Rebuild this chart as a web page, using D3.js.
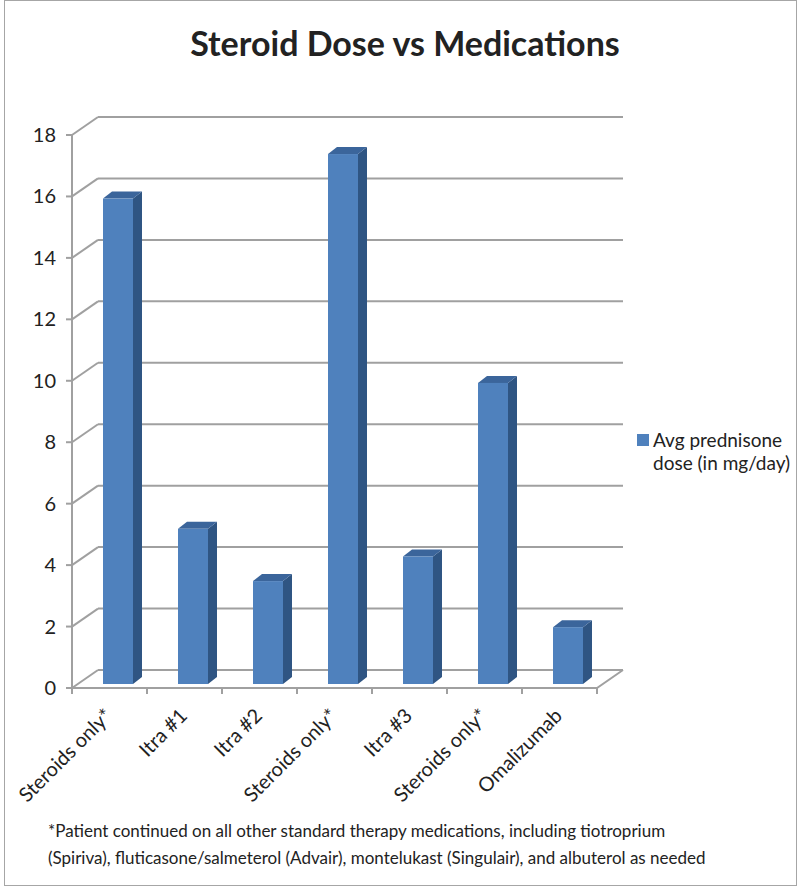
<!DOCTYPE html>
<html>
<head>
<meta charset="utf-8">
<script src="https://cdn.jsdelivr.net/npm/d3@7"></script>
<style>
  body { margin: 0; background: #fff; }
  svg { display: block; font-family: Lato, "Open Sans", sans-serif; }
</style>
</head>
<body>
<figure id="chart" style="margin:0"></figure>
<script>
const categories = ['Steroids only*', 'Itra #1', 'Itra #2', 'Steroids only*', 'Itra #3', 'Steroids only*', 'Omalizumab'];
const doses = [15.8, 5.05, 3.35, 17.25, 4.15, 9.8, 1.85];
const yTicks = [0, 2, 4, 6, 8, 10, 12, 14, 16, 18];
const seriesName = ['Avg prednisone', 'dose (in mg/day)'];
const footnote = [
  '*Patient continued on all other standard therapy medications, including tiotroprium',
  '(Spiriva), fluticasone/salmeterol (Advair), montelukast (Singulair), and albuterol as needed'
];

const width = 797, height = 889;
const wall = { dx: 26, dy: -18 };   // depth of the 3D box
const barOff = { dx: 0, dy: -4 };   // where the bar front sits in depth
const barDepth = { dx: 9, dy: -7 };

const svg = d3.select('figure#chart')
  .append('svg')
  .attr('width', width)
  .attr('height', height);

// outer chart border
svg.append('rect')
  .attr('x', 4.5).attr('y', 0.5)
  .attr('width', width - 5).attr('height', height - 4)
  .attr('fill', 'none').attr('stroke', '#a6a6a6').attr('stroke-width', 1);

// title
svg.append('text')
  .attr('x', 405).attr('y', 56)
  .attr('text-anchor', 'middle')
  .attr('font-size', 34).attr('font-weight', 'bold').attr('fill', '#222')
  .text('Steroid Dose vs Medications');

const x = d3.scaleBand()
  .domain(d3.range(categories.length))
  .range([72, 597]);

const y = d3.scaleLinear()
  .domain([0, 18])
  .range([688, 135]);

const grid = svg.append('g')
  .attr('stroke', '#a0a0a0').attr('stroke-width', 2).attr('fill', 'none');

// back gridlines + side wall diagonals
yTicks.forEach(t => {
  grid.append('line')
    .attr('x1', 72 + wall.dx).attr('x2', 597 + wall.dx)
    .attr('y1', y(t) + wall.dy).attr('y2', y(t) + wall.dy);
  grid.append('line')
    .attr('x1', 72).attr('x2', 72 + wall.dx)
    .attr('y1', y(t)).attr('y2', y(t) + wall.dy);
});

// floor: front edge + right edge
grid.append('path')
  .attr('d', `M72,${y(0)}H597L${597 + wall.dx},${y(0) + wall.dy}`);

// front vertical axis
grid.append('line')
  .attr('x1', 72).attr('x2', 72)
  .attr('y1', y(18)).attr('y2', y(0));

// y ticks
grid.selectAll('.yt').data(yTicks).enter().append('line')
  .attr('x1', 66).attr('x2', 72)
  .attr('y1', d => y(d)).attr('y2', d => y(d));

// x ticks
const xEdges = d3.range(categories.length + 1).map(i => i < categories.length ? x(i) : x.range()[1]);
grid.selectAll('.xt').data(xEdges).enter().append('line')
  .attr('x1', d => d).attr('x2', d => d)
  .attr('y1', y(0)).attr('y2', y(0) + 6);

// y tick labels
svg.selectAll('.yl').data(yTicks).enter().append('text')
  .attr('x', 56).attr('y', d => y(d) + 7)
  .attr('text-anchor', 'end')
  .attr('font-size', 20).attr('fill', '#222')
  .text(d => d);

// bars
const bw = 30;
const bars = svg.selectAll('.bar').data(doses).enter().append('g');
bars.each(function (d, i) {
  const g = d3.select(this);
  const x0 = x(i) + 31 + barOff.dx;
  const yBase = y(0) + barOff.dy;
  const yTop = y(d) + barOff.dy;
  // side face
  g.append('path')
    .attr('d', `M${x0 + bw},${yBase}L${x0 + bw + barDepth.dx},${yBase + barDepth.dy}` +
      `L${x0 + bw + barDepth.dx},${yTop + barDepth.dy}L${x0 + bw},${yTop}Z`)
    .attr('fill', '#2f5583');
  // top face
  g.append('path')
    .attr('d', `M${x0},${yTop}L${x0 + barDepth.dx},${yTop + barDepth.dy}` +
      `L${x0 + bw + barDepth.dx},${yTop + barDepth.dy}L${x0 + bw},${yTop}Z`)
    .attr('fill', '#3b659b');
  // front face
  g.append('rect')
    .attr('x', x0).attr('y', yTop)
    .attr('width', bw).attr('height', yBase - yTop)
    .attr('fill', '#4f81bd');
});

// category labels
svg.selectAll('.xl').data(categories).enter().append('text')
  .attr('transform', (d, i) => `translate(${x(i) + x.bandwidth() / 2 + 4},717) rotate(-45)`)
  .attr('text-anchor', 'end')
  .attr('font-size', 20).attr('fill', '#222')
  .text(d => d);

// legend
svg.append('rect')
  .attr('x', 637).attr('y', 434).attr('width', 12).attr('height', 12)
  .attr('fill', '#4f81bd');
svg.selectAll('.lg').data(seriesName).enter().append('text')
  .attr('x', 653).attr('y', (d, i) => 447 + i * 23)
  .attr('font-size', 19).attr('fill', '#222')
  .text(d => d);

// footnote
svg.selectAll('.fn').data(footnote).enter().append('text')
  .attr('x', 48).attr('y', (d, i) => 837 + i * 27)
  .attr('font-size', 17).attr('fill', '#222')
  .text(d => d);
</script>
</body>
</html>
